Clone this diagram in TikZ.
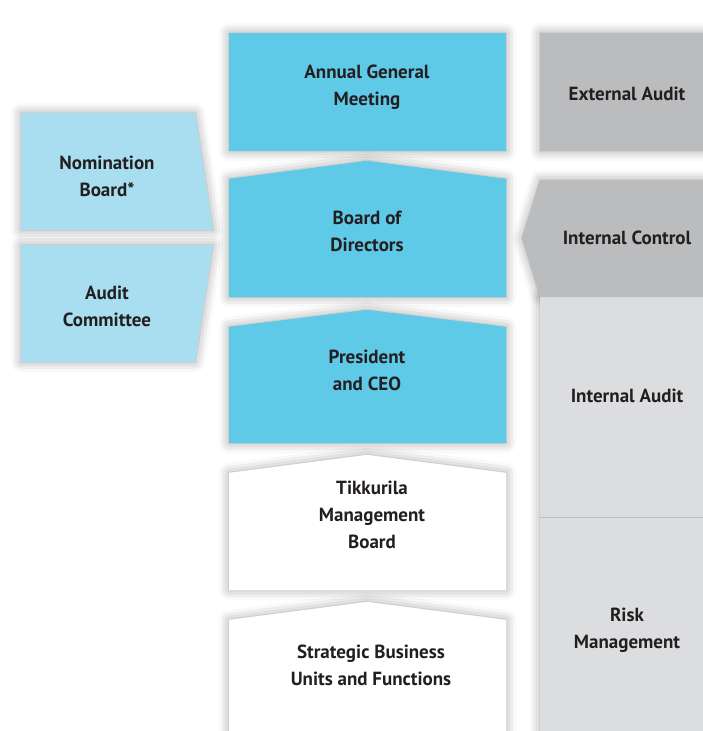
\documentclass[tikz,border=0pt]{standalone}
\usepackage{fontspec}
\setmainfont{PT Sans}
\usetikzlibrary{shadows.blur}

\definecolor{govblue}{HTML}{5FC9E8}
\definecolor{paleblue}{HTML}{A9DEF1}
\definecolor{auditgrey}{HTML}{BBBCBE}
\definecolor{lightgrey}{HTML}{DCDDDF}
\definecolor{rulegrey}{HTML}{BDBEC0}
\definecolor{ink}{HTML}{231F20}

\tikzset{
  glow/.style={blur shadow={shadow xshift=0pt, shadow yshift=0pt,
      shadow blur radius=10pt, shadow opacity=38}},
  boxtext/.style={font=\bfseries\fontsize{19}{27}\selectfont, text=ink,
      align=center, inner sep=0pt}
}

\begin{document}
\begin{tikzpicture}[x=1pt, y=-1pt]
  \useasboundingbox (0,0) rectangle (703,731);
  \clip (0,0) rectangle (703,731);

  % pass 1 draws the soft shadows, pass 2 repaints the flat shapes on top
  \foreach \pass in {1,2}{
    \ifnum\pass=1 \tikzset{shp/.style={glow}}\else\tikzset{shp/.style={}}\fi
    % governance column
    \fill[govblue, shp] (229,33) rectangle (506,151);
    \fill[govblue, shp] (229,179) -- (367,161) -- (506,179) -- (506,297) -- (229,297) -- cycle;
    \fill[govblue, shp] (229,327) -- (367,310) -- (506,327) -- (506,443) -- (229,443) -- cycle;
    \fill[white, shp]   (229,473) -- (367,455) -- (506,473) -- (506,590) -- (229,590) -- cycle;
    \fill[white, shp]   (229,620) -- (367,602) -- (506,620) -- (506,745) -- (229,745) -- cycle;
    % committees
    \fill[paleblue, shp] (21,113) -- (195,113) -- (213,230) -- (21,230) -- cycle;
    \fill[paleblue, shp] (21,245) -- (213,245) -- (195,362) -- (21,362) -- cycle;
    % control column
    \fill[auditgrey, shp] (540,33) rectangle (720,151);
    \fill[lightgrey, shp] (540,297) rectangle (720,745);
    \fill[auditgrey, shp] (540,180) -- (720,180) -- (720,297) -- (540,297) -- (522,238) -- cycle;
  }
  \draw[rulegrey, line width=1pt] (540,517) -- (720,517);

  % labels
  \node[boxtext] (agm)  at (367,87)  {Annual General\\Meeting};
  \node[boxtext] (bod)  at (367,231) {Board of\\Directors};
  \node[boxtext] (ceo)  at (367,370) {President\\and CEO};
  \node[boxtext] (tmb)  at (372,515) {Tikkurila\\Management\\Board};
  \node[boxtext] (sbu)  at (371,665) {Strategic Business\\Units and Functions};
  \node[boxtext] (nom)  at (107,176) {Nomination\\Board*};
  \node[boxtext] (ac)   at (107,306) {Audit\\Committee};
  \node[boxtext] (ext)  at (627,94)  {External Audit};
  \node[boxtext] (ic)   at (627,238) {Internal Control};
  \node[boxtext] (ia)   at (627,396) {Internal Audit};
  \node[boxtext] (risk) at (627,630) {Risk\\Management};
\end{tikzpicture}
\end{document}
